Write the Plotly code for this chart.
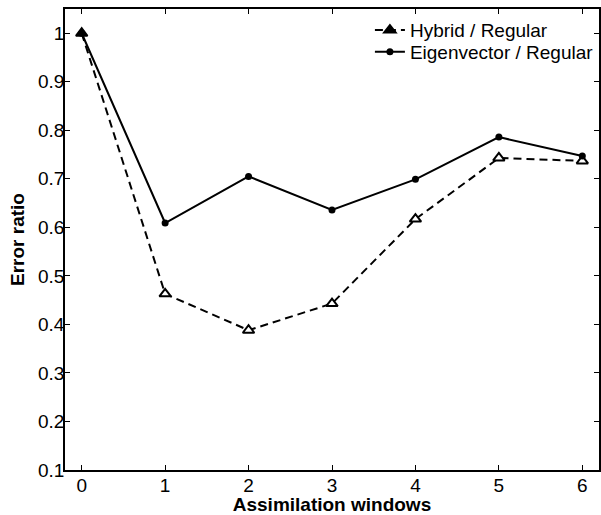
import plotly.graph_objects as go

windows = [0, 1, 2, 3, 4, 5, 6]
hybrid = [1.0, 0.463, 0.388, 0.443, 0.617, 0.743, 0.737]
eigen = [1.0, 0.609, 0.705, 0.636, 0.699, 0.786, 0.747]
x_ticks = [0, 1, 2, 3, 4, 5, 6]
y_ticks = [0.1, 0.2, 0.3, 0.4, 0.5, 0.6, 0.7, 0.8, 0.9, 1.0]
y_tick_labels = ["0.1", "0.2", "0.3", "0.4", "0.5", "0.6", "0.7", "0.8", "0.9", "1"]

FONT = "Liberation Sans, Arial, sans-serif"

fig = go.Figure()
fig.add_trace(go.Scatter(
    x=windows, y=hybrid, mode="lines+markers", name="Hybrid / Regular",
    line=dict(color="black", width=2, dash="8px,5px"),
    marker=dict(symbol="triangle-up", size=10,
                color=["black"] + ["white"] * (len(windows) - 1),
                line=dict(color="black", width=2)),
    legend="legend",
))
fig.add_trace(go.Scatter(
    x=windows, y=eigen, mode="lines+markers", name="Eigenvector / Regular",
    line=dict(color="black", width=2),
    marker=dict(symbol="circle", size=7, color="black"),
    legend="legend2",
))

axis_common = dict(
    showline=True, linecolor="black", linewidth=1.5, mirror="ticks",
    ticks="inside", ticklen=5, tickwidth=1, tickcolor="black",
    showgrid=False, zeroline=False, automargin=False,
    tickfont=dict(family=FONT, size=19, color="black"),
)

legend_common = dict(x=0.571, xanchor="left", yanchor="middle",
                     bgcolor="rgba(0,0,0,0)", font=dict(family=FONT, size=19),
                     itemwidth=30)

fig.update_layout(
    width=601, height=515,
    margin=dict(l=65, r=2, t=9, b=45),
    paper_bgcolor="white", plot_bgcolor="white",
    font=dict(family=FONT, color="black"),
    showlegend=True,
    legend=dict(y=0.954, **legend_common),
    legend2=dict(y=0.907, **legend_common),
    xaxis=dict(range=[-0.2, 6.2], tickvals=x_ticks,
               ticklabelstandoff=-3,
               title=dict(text="<b>Assimilation windows</b>", standoff=4,
                          font=dict(family=FONT, size=19)),
               **axis_common),
    yaxis=dict(range=[0.1, 1.05], tickvals=y_ticks, ticktext=y_tick_labels,
               ticklabelstandoff=-5,
               title=dict(text="<b>Error ratio</b>", standoff=8,
                          font=dict(family=FONT, size=19)),
               **axis_common),
)

fig.write_html("out.html", config={"displayModeBar": False},
               post_script="document.body.style.margin='0px';")
